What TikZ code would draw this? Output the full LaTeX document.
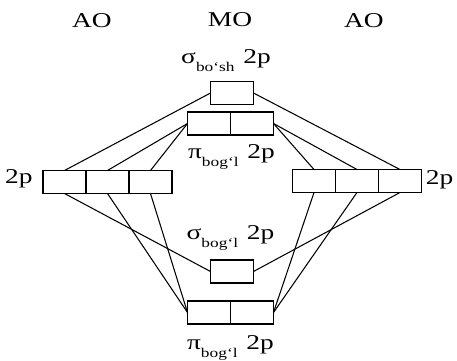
\documentclass[tikz,border=0pt]{standalone}
\usepackage{fontspec}
\setmainfont{Liberation Serif}[FakeStretch=1.3]
\usetikzlibrary{positioning}
\newcommand{\orbsub}[1]{\raisebox{-4.5pt}{\fontsize{7.6}{8}\selectfont #1}}
\tikzset{
  cell/.style={rectangle, draw, line width=0.6pt, minimum width=0.86cm,
               minimum height=0.46cm, outer sep=0pt, inner sep=0pt},
  lbl/.style ={font=\fontsize{12}{14}\selectfont, inner sep=0pt},
  link/.style={line width=0.6pt},
}

\begin{document}
\begin{tikzpicture}[x=0.02cm, y=-0.02cm, node distance=0pt]
\useasboundingbox (0,0) rectangle (457,361);
% headers
\node[lbl] (aoleft)  at (92,21)  {AO};
\node[lbl] (mo)      at (230,20) {MO};
\node[lbl] (aoright) at (364,21) {AO};

% atomic orbitals, left
\node[cell] (l1) at (64.5,182) {};
\node[cell, right=of l1] (l2) {};
\node[cell, right=of l2] (l3) {};
\node[lbl, left=0.2cm of l1, yshift=0.07cm] (l2p) {2p};

% atomic orbitals, right
\node[cell] (r1) at (314,181) {};
\node[cell, right=of r1] (r2) {};
\node[cell, right=of r2] (r3) {};
\node[lbl, right=0.08cm of r3, yshift=0.03cm] (r2p) {2p};

% molecular orbitals
\node[cell] (sa) at (232,93) {};
\node[cell] (pa1) at (209,123.5) {};
\node[cell, right=of pa1] (pa2) {};
\node[cell] (sb) at (232,271.5) {};
\node[cell] (pb1) at (209,312.5) {};
\node[cell, right=of pb1] (pb2) {};

% orbital labels
\node[lbl, above=0.2cm of sa, xshift=-0.12cm] (saL) {σ\orbsub{bo‘sh}\hspace{5pt}2p};
\node[lbl, below=0.18cm of pa1.south east, xshift=0.02cm] (paL) {π\orbsub{bog‘l}\hspace{5pt}2p};
\node[lbl, above=0.18cm of sb, xshift=-0.03cm] (sbL) {σ\orbsub{bog‘l}\hspace{5pt}2p};
\node[lbl, below=0.22cm of pb1.south east] (pbL) {π\orbsub{bog‘l}\hspace{5pt}2p};

% antibonding links
\draw[link] (l1.north) -- (sa.west);
\draw[link] (l2.north) -- (pa1.west);
\draw[link] (l3.north) -- (pa1.west);
\draw[link] (r3.north) -- (sa.east);
\draw[link] (r1.north) -- (pa2.east);
\draw[link] (r2.north) -- (pa2.east);
% bonding links
\draw[link] (l1.south) -- (sb.west);
\draw[link] (l2.south) -- (pb1.west);
\draw[link] (l3.south) -- (pb1.west);
\draw[link] (r3.south) -- (sb.east);
\draw[link] (r1.south) -- (pb2.east);
\draw[link] (r2.south) -- (pb2.east);
\end{tikzpicture}
\end{document}
